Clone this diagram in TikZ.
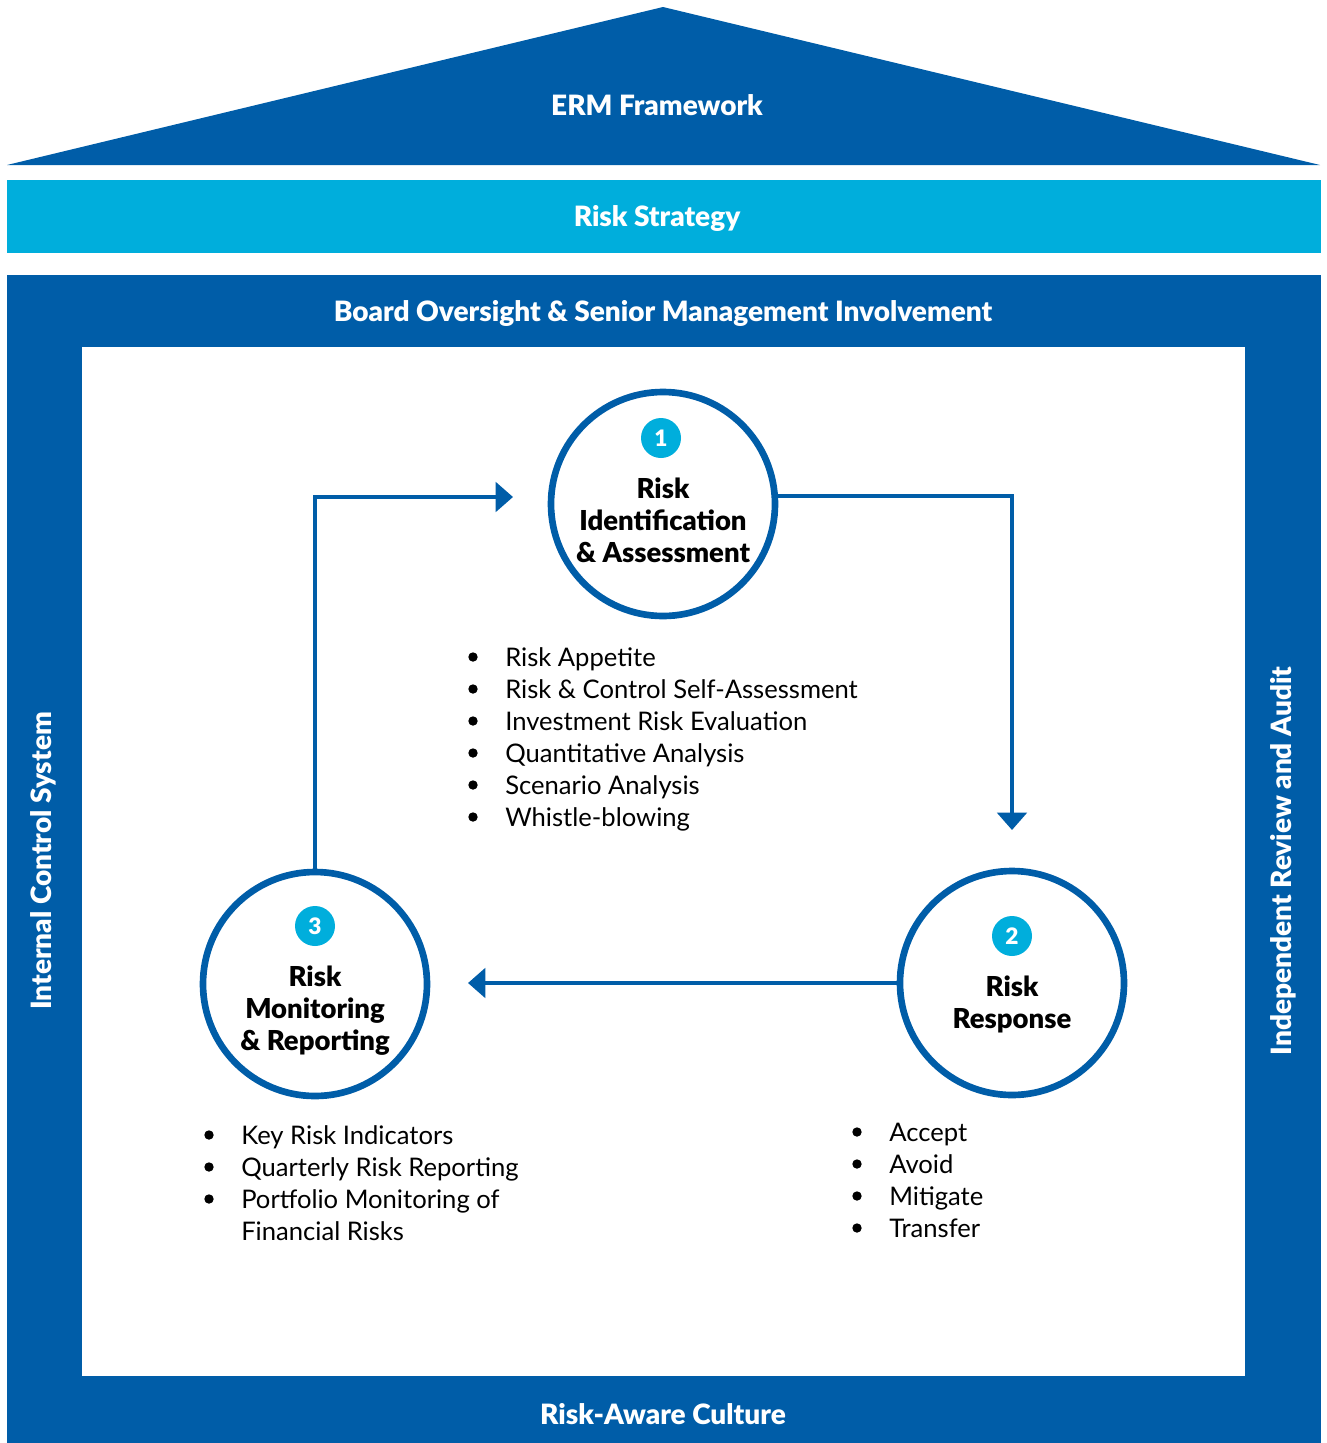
\documentclass[tikz,border=0pt]{standalone}
\usepackage{fontspec}
\setmainfont{Lato}
\newfontfamily\heavyfont{Lato Black}
\usetikzlibrary{arrows.meta}
\definecolor{dblue}{RGB}{0,93,168}
\definecolor{cyanb}{RGB}{0,174,220}
\begin{document}
\begin{tikzpicture}[x=0.75pt,y=-0.75pt,
  bandtext/.style={font=\heavyfont\fontsize{21}{24}\selectfont, text=white, inner sep=0pt},
  stage/.style={circle, draw=dblue, line width=5pt, fill=white, minimum size=168pt, inner sep=0pt},
  stagetext/.style={font=\heavyfont\fontsize{20.6}{24}\selectfont, align=center, inner sep=0pt, text=black},
  badge/.style={circle, fill=cyanb, minimum size=30pt, inner sep=0pt, text=white, font=\heavyfont\fontsize{17}{20}\selectfont},
  flow/.style={draw=dblue, line width=3pt, -{Triangle[length=13pt,width=22pt]}},
  item/.style={anchor=mid west, inner sep=0pt, yshift=-4.5pt, font=\fontsize{19.2}{23}\selectfont},
  bul/.style={fill=black}
]
\useasboundingbox (0,0) rectangle (1327,1443);
% roof
\fill[dblue] (7,165) -- (663,7) -- (1320,165) -- cycle;
\node[bandtext] (erm) at (657,105) {ERM Framework};
% strategy band
\fill[cyanb] (7,180) rectangle (1321,253);
\node[bandtext] (strat) at (657,218) {Risk Strategy};
% frame
\fill[dblue] (7,275) rectangle (1321,1443);
\fill[white] (82,347) rectangle (1245,1376);
\node[bandtext] (board) at (663,313) {Board Oversight \& Senior Management Involvement};
\node[bandtext] (culture) at (663,1414) {Risk-Aware Culture};
\node[bandtext, rotate=90] (ics) at (43,861) {Internal Control System};
\node[bandtext, rotate=90] (ira) at (1283,861) {Independent Review and Audit};
% stages
\node[stage] (c1) at (663,504) {};
\node[stage] (c2) at (1012,983) {};
\node[stage] (c3) at (315,984) {};
\node[badge] (b1) at (661,438) {1};
\node[badge] (b2) at (1012,936) {2};
\node[badge] (b3) at (315,926) {3};
\node[stagetext] (t1) at (663,520) {Risk\\Identification\\\& Assessment};
\node[stagetext] (t2) at (1012,1004) {Risk\\Response};
\node[stagetext] (t3) at (315,1011) {Risk\\Monitoring\\\& Reporting};
% connectors
\coordinate (tip1) at (1012,830);
\coordinate (tip2) at (468,983);
\coordinate (tip3) at (513,497);
\draw[flow] (c1.4) -| (tip1);
\draw[flow] (c2.west) -- (tip2);
\draw[flow] (c3.north) |- (tip3);
% list 1
\foreach \y/\t [count=\i] in {657/Risk Appetite, 689/Risk \& Control Self-Assessment, 721/Investment Risk Evaluation, 753/Quantitative Analysis, 785/Scenario Analysis, 817/Whistle-blowing}{
  \fill[bul] (473,\y) circle (4.7);
  \node[item] (la\i) at (505,\y) {\t};
}
% list 2
\foreach \y/\t [count=\i] in {1132/Accept, 1164/Avoid, 1196/Mitigate, 1228/Transfer}{
  \fill[bul] (857,\y) circle (4.7);
  \node[item] (lb\i) at (889,\y) {\t};
}
% list 3
\foreach \y/\t [count=\i] in {1135/Key Risk Indicators, 1167/Quarterly Risk Reporting, 1199/Portfolio Monitoring of}{
  \fill[bul] (209,\y) circle (4.7);
  \node[item] (lc\i) at (241,\y) {\t};
}
\node[item] (lc4) at (241,1231) {Financial Risks};
\end{tikzpicture}
\end{document}
